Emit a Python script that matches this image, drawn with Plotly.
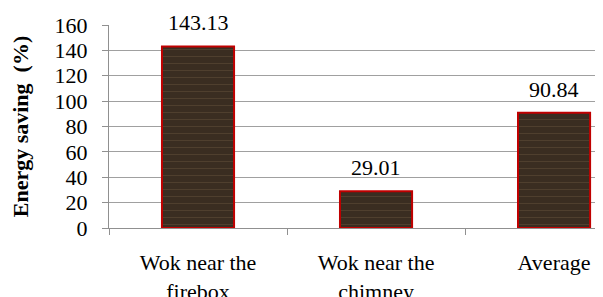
import plotly.graph_objects as go

categories = ["Wok near the<br>firebox", "Wok near the<br>chimney", "Average"]
values = [143.13, 29.01, 90.84]
value_labels = ["143.13", "29.01", "90.84"]
y_ticks = [0, 20, 40, 60, 80, 100, 120, 140, 160]

FONT = "Times New Roman, Liberation Serif, serif"

fig = go.Figure()
fig.add_trace(go.Bar(
    x=categories,
    y=values,
    width=0.405,
    marker=dict(
        color="#3a2d21",
        line=dict(color="#c00000", width=2),
        pattern=dict(shape="-", size=7, solidity=0.12, fgcolor="#6a5840", fgopacity=0.5),
    ),
    cliponaxis=False,
))

for c, v, t in zip(categories, values, value_labels):
    fig.add_annotation(x=c, y=v, text=t, showarrow=False, yanchor="bottom", yshift=9,
                       font=dict(family=FONT, size=22, color="black"))

fig.update_layout(
    width=595, height=289,
    margin=dict(l=101, r=0, t=17, b=69, autoexpand=False),
    paper_bgcolor="white", plot_bgcolor="white",
    showlegend=False,
    font=dict(family=FONT, size=22, color="black"),
)
fig.update_xaxes(
    range=[-0.5, 2.275],
    automargin=False,
    showline=True, linecolor="#909090", linewidth=1,
    ticks="outside", tickson="boundaries", ticklen=6, tickcolor="#909090",
    ticklabelstandoff=15,
    tickfont=dict(family=FONT, size=22, color="black"),
    showgrid=False,
)
fig.update_yaxes(
    range=[0, 160],
    automargin=False,
    tickvals=y_ticks,
    showline=True, linecolor="#909090", linewidth=1,
    ticks="outside", ticklen=6, tickcolor="#909090",
    showgrid=True, gridcolor="#a0a0a0", gridwidth=1,
    ticklabelstandoff=10,
    tickfont=dict(family=FONT, size=22, color="black"),
    title=dict(text="<b>Energy saving  (%)</b>", standoff=22,
               font=dict(family=FONT, size=22, color="black")),
    zeroline=False,
)

fig.write_html("out.html")
